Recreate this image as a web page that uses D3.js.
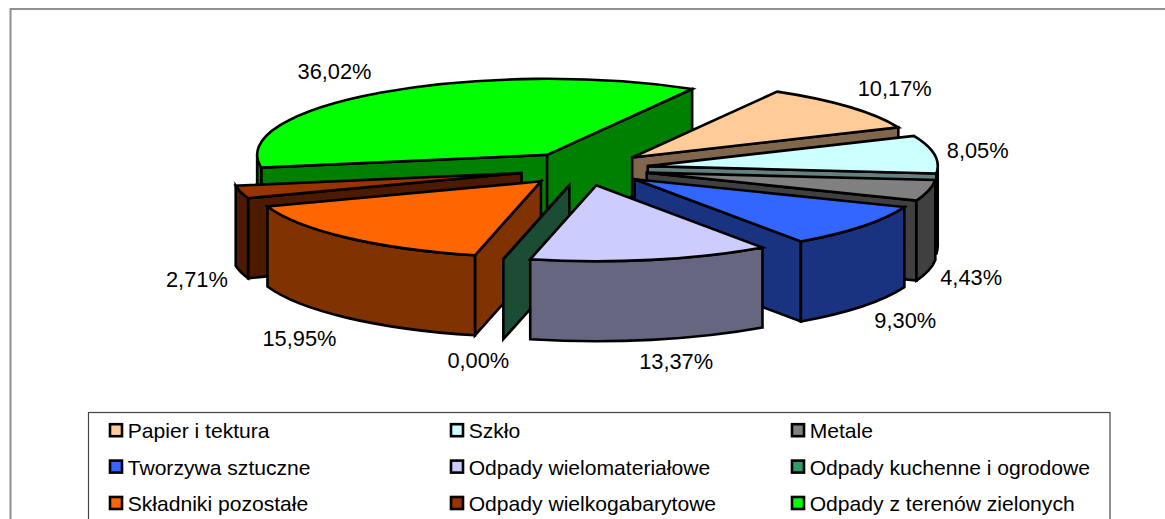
<!DOCTYPE html>
<html>
<head>
<meta charset="utf-8">
<script src="https://cdn.jsdelivr.net/npm/d3@7"></script>
<style>
html, body { margin: 0; background: #fff; overflow: hidden; }
svg { display: block; }
text { font-family: "Liberation Sans", Arial, sans-serif; fill: #000; }
</style>
</head>
<body>
<svg width="1165" height="519"></svg>
<script>
var categories = ['Papier i tektura', 'Szkło', 'Metale', 'Tworzywa sztuczne', 'Odpady wielomateriałowe',
	'Odpady kuchenne i ogrodowe', 'Składniki pozostałe', 'Odpady wielkogabarytowe', 'Odpady z terenów zielonych'];
var values = [10.17, 8.05, 4.43, 9.30, 13.37, 0.00, 15.95, 2.71, 36.02];
var labels = ['10,17%', '8,05%', '4,43%', '9,30%', '13,37%', '0,00%', '15,95%', '2,71%', '36,02%'];
var colors = ['#FFCC99', '#CCFFFF', '#808080', '#3366FF', '#CCCCFF', '#339966', '#FF6600', '#993300', '#00FF00'];

// label shift from the rim of each slice
var labelNudge = [[46, -19], [43.5, -4], [42.5, 7], [43, 14], [25, 21], [-25, 21], [-48, 20], [-44, 7], [-47, -21]];

var svg = d3.select('svg');

var cx = 584, cy = 168.7;
var rx = 290, ry = 76;
var depth = 80;
var explode = 64.5;
var ratio = ry / rx;
var firstAngle = 30 * Math.PI / 180;

var slices = d3.pie().sort(null).startAngle(firstAngle).endAngle(firstAngle + 2 * Math.PI)(values);

function shade(c) {
	var r = d3.rgb(c);
	return d3.rgb(r.r * 0.5, r.g * 0.5, r.b * 0.5).formatHex();
}

function rim(a, t) {
	return [a[0] + rx * Math.sin(t), a[1] - ry * Math.cos(t)];
}

slices.forEach(function (d) {
	var mid = (d.startAngle + d.endAngle) / 2;
	d.mid = mid;
	d.apex = [cx + explode * Math.sin(mid), cy - explode * ratio * Math.cos(mid)];
	d.color = colors[d.index];
});

// the frame has only a left and a top edge inside the picture
svg.append('path').attr('d', 'M10.5 519V9H1165')
	.attr('fill', 'none').attr('stroke', '#909090').attr('stroke-width', 2);

var arcTop = d3.arc().innerRadius(0).outerRadius(rx);

function wallRadial(d, t) {
	var p = rim(d.apex, t);
	return 'M' + d.apex + 'L' + p + 'L' + [p[0], p[1] + depth] + 'L' + [d.apex[0], d.apex[1] + depth] + 'Z';
}

function wallOuter(d, t0, t1) {
	var a = rim(d.apex, t0), b = rim(d.apex, t1);
	return 'M' + a + 'A' + rx + ' ' + ry + ' 0 0 1 ' + b +
		'L' + [b[0], b[1] + depth] +
		'A' + rx + ' ' + ry + ' 0 0 0 ' + [a[0], a[1] + depth] + 'Z';
}

var order = slices.slice().sort(function (a, b) {
	return d3.ascending(a.apex[1], b.apex[1]);
});

var groups = svg.append('g').selectAll('g.slice').data(order).enter().append('g').attr('class', 'slice');

groups.each(function (d) {
	var g = d3.select(this);
	var paths = [];
	if (Math.sin(d.startAngle) < 0) paths.push(wallRadial(d, d.startAngle));
	if (Math.sin(d.endAngle) > 0) paths.push(wallRadial(d, d.endAngle));
	var t0 = Math.max(d.startAngle, Math.PI / 2), t1 = Math.min(d.endAngle, 3 * Math.PI / 2);
	if (t1 > t0) paths.push(wallOuter(d, t0, t1));
	paths.forEach(function (p) {
		g.append('path').attr('d', p)
			.attr('fill', shade(d.color))
			.attr('stroke', '#000').attr('stroke-width', 2.6).attr('stroke-linejoin', 'miter');
	});
	g.append('path')
		.attr('d', arcTop({ startAngle: d.startAngle, endAngle: d.endAngle }))
		.attr('transform', 'translate(' + d.apex + ') scale(1,' + ratio + ')')
		.attr('vector-effect', 'non-scaling-stroke')
		.attr('fill', d.color)
		.attr('stroke', '#000').attr('stroke-width', 2.6);
});

svg.append('g').selectAll('text').data(slices).enter().append('text')
	.attr('x', function (d) { return rim(d.apex, d.mid)[0] + labelNudge[d.index][0]; })
	.attr('y', function (d) {
		var front = Math.cos(d.mid) < 0 ? depth : 0;
		return rim(d.apex, d.mid)[1] + front + labelNudge[d.index][1];
	})
	.attr('dy', '0.35em')
	.attr('text-anchor', 'middle')
	.style('font-size', '21.8px')
	.text(function (d) { return labels[d.index]; });

// legend, cut off by the bottom of the picture
svg.append('rect').attr('x', 88.5).attr('y', 412.5).attr('width', 1021.5).attr('height', 130)
	.attr('fill', '#fff').attr('stroke', '#444').attr('stroke-width', 1.2);

var colX = d3.scalePoint().domain([0, 1, 2]).range([116, 798]);
var rowY = d3.scalePoint().domain([0, 1, 2]).range([430.2, 503]);

var items = svg.append('g').selectAll('g.item').data(categories).enter().append('g')
	.attr('class', 'item')
	.attr('transform', function (d, i) {
		return 'translate(' + colX(i % 3) + ',' + rowY(Math.floor(i / 3)) + ')';
	});

items.append('rect').attr('x', -6).attr('y', -6).attr('width', 12).attr('height', 12)
	.attr('fill', function (d, i) { return colors[i]; })
	.attr('stroke', '#000').attr('stroke-width', 2.6);

items.append('text').attr('x', 11.7).attr('y', 0.8).attr('dy', '0.35em')
	.style('font-size', '21.1px')
	.text(function (d) { return d; });
</script>
</body>
</html>
